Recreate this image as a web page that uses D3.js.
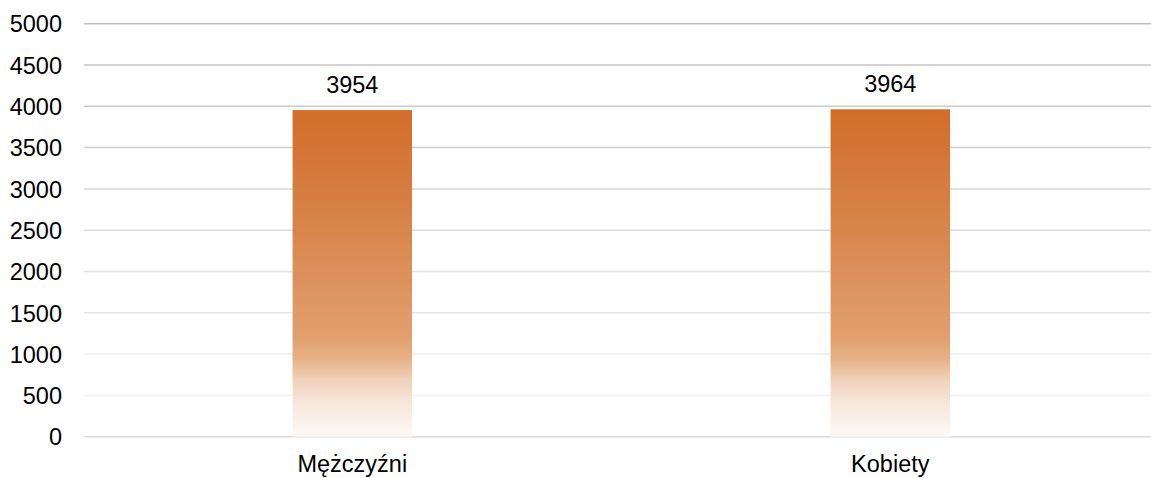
<!DOCTYPE html>
<html>
<head>
<meta charset="utf-8">
<script src="https://cdn.jsdelivr.net/npm/d3@7"></script>
<style>
  html, body { margin: 0; padding: 0; background: #fff; }
  svg { display: block; }
  text { font-family: "Liberation Sans", Arial, sans-serif; fill: #000; }
</style>
</head>
<body>
<svg id="chart" width="1151" height="478"></svg>
<script>
const categories = ["Mężczyźni", "Kobiety"];
const values = [3954, 3964];
const yTicks = [0, 500, 1000, 1500, 2000, 2500, 3000, 3500, 4000, 4500, 5000];

const svg = d3.select("#chart");

const y = d3.scaleLinear().domain([0, 5000]).range([436.7, 23.7]);
const x = d3.scaleBand().domain(categories).range([83.3, 1159.3])
  .paddingInner(0.778).paddingOuter(0.389);

const defs = svg.append("defs");
const grad = defs.append("linearGradient").attr("id", "barGrad")
  .attr("x1", 0).attr("y1", 0).attr("x2", 0).attr("y2", 1);
[
  [0, "#d26d2a"],
  [0.35, "#d8844a"],
  [0.70, "#e1a070"],
  [0.76, "#e6b085"],
  [0.83, "#f1d3bc"],
  [0.90, "#f7e7dc"],
  [1, "#fdf9f6"]
].forEach(([o, c]) => grad.append("stop").attr("offset", o).attr("stop-color", c));

// gridlines
const gridColor = d3.scaleLinear().domain([500, 5000]).range(["#f2f2f2", "#bfbfbf"]).interpolate(d3.interpolateRgb);
svg.append("g").selectAll("line").data(yTicks).join("line")
  .attr("x1", 84).attr("x2", 1160)
  .attr("y1", d => y(d)).attr("y2", d => y(d))
  .attr("stroke", d => d === 0 ? "#d9d9d9" : gridColor(d))
  .attr("stroke-width", 1.5);

// y axis labels
const yAxis = d3.axisLeft(y).tickValues(yTicks).tickFormat(d3.format("d")).tickSize(0).tickPadding(0);
const gy = svg.append("g").attr("transform", "translate(62,0)").call(yAxis);
gy.select(".domain").remove();
gy.selectAll("text").attr("font-size", 23.5).attr("fill", "#000")
  .attr("font-family", "Liberation Sans, Arial, sans-serif")
  .attr("dy", "0.35em");

// bars
svg.append("g").selectAll("rect").data(values).join("rect")
  .attr("x", (d, i) => x(categories[i]))
  .attr("width", x.bandwidth())
  .attr("y", d => y(d))
  .attr("height", d => y(0) - y(d))
  .attr("fill", "url(#barGrad)");

// value labels
svg.append("g").selectAll("text").data(values).join("text")
  .attr("x", (d, i) => x(categories[i]) + x.bandwidth() / 2)
  .attr("y", d => y(d) - 17)
  .attr("text-anchor", "middle")
  .attr("font-size", 23.5)
  .text(d => d);

// x axis labels
const xAxis = d3.axisBottom(x).tickSize(0).tickPadding(0);
const gx = svg.append("g").attr("transform", "translate(0,472)").call(xAxis);
gx.select(".domain").remove();
gx.selectAll("text").attr("font-size", 23.5).attr("fill", "#000")
  .attr("font-family", "Liberation Sans, Arial, sans-serif")
  .attr("dy", 0).attr("y", 0);
</script>
</body>
</html>
